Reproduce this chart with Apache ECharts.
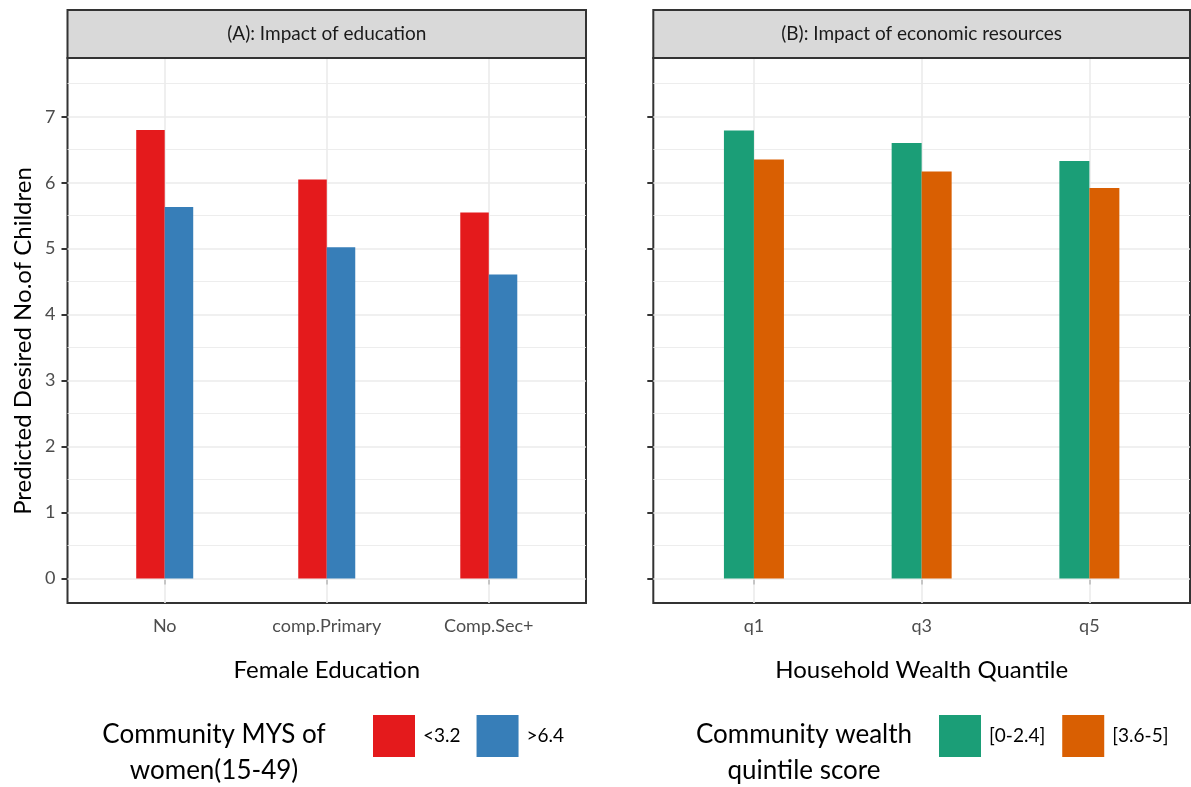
<!DOCTYPE html>
<html>
<head>
<meta charset="utf-8">
<title>Predicted desired number of children</title>
<script src="https://cdn.jsdelivr.net/npm/echarts@6/dist/echarts.min.js"></script>
<style>
  html, body { margin: 0; padding: 0; background: #fff; }
  #chart { width: 1191px; height: 787px; }
</style>
</head>
<body>
<div id="chart"></div>
<script>
// data
const eduCats = ['No', 'comp.Primary', 'Comp.Sec+'];
const eduLow = [6.80, 6.05, 5.55];   // Community MYS <3.2
const eduHigh = [5.63, 5.02, 4.61];  // Community MYS >6.4
const wealthCats = ['q1', 'q3', 'q5'];
const wealthLow = [6.79, 6.60, 6.33];   // [0-2.4]
const wealthHigh = [6.35, 6.17, 5.92];  // [3.6-5]
const yTicks = [0, 1, 2, 3, 4, 5, 6, 7];
const yMinor = [0.5, 1.5, 2.5, 3.5, 4.5, 5.5, 6.5, 7.5];
const catPos = [1, 2, 3];

const FONT = 'Lato';
const panels = [
  { left: 67.5, width: 518.5 },
  { left: 653.3, width: 536.7 }
];
const TOP = 58, BOTTOM = 603;

const chart = echarts.init(document.getElementById('chart'));

// panel grid lines, kept on an empty helper series so bar offsets don't shift them
function gridSeries(i) {
  return {
    type: 'line', xAxisIndex: i, yAxisIndex: i, data: [], silent: true, z: 1,
    markLine: {
      silent: true, symbol: ['none', 'none'], z: 1, animation: false,
      label: { show: false },
      lineStyle: { color: '#ebebeb', type: 'solid' },
      emphasis: { disabled: true },
      data: [
        ...yTicks.map(v => ({ yAxis: v, lineStyle: { width: 1.6 } })),
        ...yMinor.map(v => ({ yAxis: v, lineStyle: { width: 0.9 } })),
        ...catPos.map(v => ({ xAxis: v, lineStyle: { width: 1.6 } }))
      ]
    }
  };
}

function xAxisFor(i, cats, title) {
  return {
    type: 'value', gridIndex: i, min: 0.4, max: 3.6,
    axisLine: { show: false },
    splitLine: { show: false },
    axisTick: { show: true, customValues: catPos, length: 6, lineStyle: { color: '#333', width: 2 } },
    axisLabel: {
      customValues: catPos, margin: 14,
      formatter: v => cats[Math.round(v) - 1] || '',
      color: '#4d4d4d', fontSize: 18, fontFamily: FONT
    },
    name: title, nameLocation: 'middle', nameGap: 55,
    nameTextStyle: { color: '#000', fontSize: 24, fontFamily: FONT }
  };
}

function yAxisFor(i, showLabels) {
  return {
    type: 'value', gridIndex: i, min: -0.37, max: 7.89,
    axisLine: { show: false },
    splitLine: { show: false },
    axisTick: { show: true, customValues: yTicks, length: 6, lineStyle: { color: '#333', width: 2 } },
    axisLabel: {
      show: showLabels, customValues: yTicks, margin: 12,
      color: '#4d4d4d', fontSize: 18, fontFamily: FONT
    }
  };
}

function barSeries(name, i, vals, color, width) {
  return {
    name: name, type: 'bar', xAxisIndex: i, yAxisIndex: i,
    data: vals.map((v, k) => [catPos[k], v]),
    barWidth: width, barGap: '0%', z: 3,
    itemStyle: { color: color },
    emphasis: { disabled: true }
  };
}

function strip(p, text) {
  return [
    {
      type: 'rect', z: 10,
      shape: { x: p.left, y: 10, width: p.width, height: TOP - 10 },
      style: { fill: '#d9d9d9', stroke: '#333', lineWidth: 2 }
    },
    {
      type: 'text', z: 11, x: p.left + p.width / 2, y: 34,
      style: { text: text, fill: '#1a1a1a', font: '19px ' + FONT, textAlign: 'center', textVerticalAlign: 'middle' }
    }
  ];
}

const legendText = { color: '#000', fontSize: 19, fontFamily: FONT, padding: [12, 0, 0, 3] };

const option = {
  animation: false,
  grid: panels.map(p => ({
    left: p.left, width: p.width, top: TOP, height: BOTTOM - TOP,
    show: true, borderColor: '#333', borderWidth: 2, backgroundColor: '#fff'
  })),
  xAxis: [
    xAxisFor(0, eduCats, 'Female Education'),
    xAxisFor(1, wealthCats, 'Household Wealth Quantile')
  ],
  yAxis: [yAxisFor(0, true), yAxisFor(1, false)],
  legend: [
    {
      data: ['<3.2', '>6.4'], left: 368, top: 710, orient: 'horizontal',
      icon: 'rect', itemWidth: 42, itemHeight: 42, itemGap: 16, selectedMode: false,
      textStyle: legendText
    },
    {
      data: ['[0-2.4]', '[3.6-5]'], left: 934, top: 710, orient: 'horizontal',
      icon: 'rect', itemWidth: 42, itemHeight: 42, itemGap: 17, selectedMode: false,
      textStyle: legendText
    }
  ],
  graphic: [
    ...strip(panels[0], '(A): Impact of education'),
    ...strip(panels[1], '(B): Impact of economic resources'),
    {
      type: 'text', x: 23, y: 341, rotation: Math.PI / 2,
      style: { text: 'Predicted Desired No.of Children', fill: '#000', font: '24px ' + FONT, textAlign: 'center', textVerticalAlign: 'middle' }
    },
    {
      type: 'text', x: 214, y: 753,
      style: { text: 'Community MYS of\nwomen(15-49)', fill: '#000', font: '26px ' + FONT, lineHeight: 36, textAlign: 'center', textVerticalAlign: 'middle' }
    },
    {
      type: 'text', x: 804, y: 753,
      style: { text: 'Community wealth\nquintile score', fill: '#000', font: '26px ' + FONT, lineHeight: 36, textAlign: 'center', textVerticalAlign: 'middle' }
    }
  ],
  series: [
    gridSeries(0),
    gridSeries(1),
    barSeries('<3.2', 0, eduLow, '#E41A1C', 28.5),
    barSeries('>6.4', 0, eduHigh, '#377EB8', 28.5),
    barSeries('[0-2.4]', 1, wealthLow, '#1B9E77', 30),
    barSeries('[3.6-5]', 1, wealthHigh, '#D95F02', 30)
  ]
};

chart.setOption(option);
</script>
</body>
</html>
